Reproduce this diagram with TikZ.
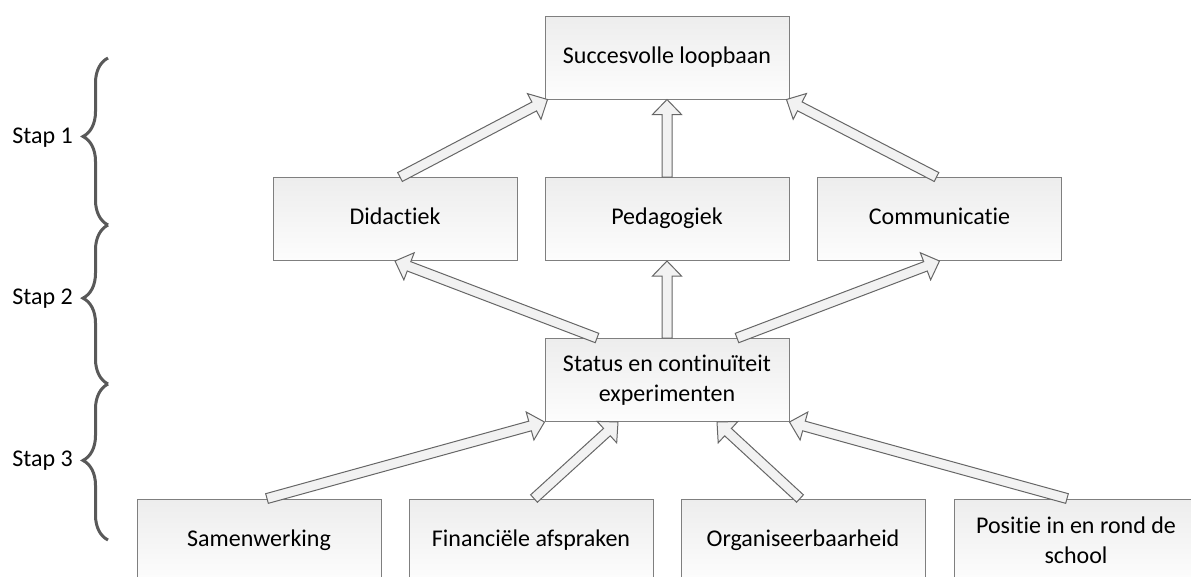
\documentclass[tikz,border=0pt]{standalone}
\usepackage{fontspec}
\setmainfont{Carlito}[Ligatures={NoCommon,NoRequired,NoContextual}]
\usetikzlibrary{calc,decorations.pathreplacing}
\definecolor{boxline}{HTML}{7F7F7F}
\definecolor{boxtop}{HTML}{EDEDED}
\definecolor{boxbot}{HTML}{FDFDFD}
\definecolor{arrline}{HTML}{666666}
\definecolor{arrfill}{HTML}{F2F2F2}
\definecolor{bracecol}{HTML}{595959}
\tikzset{
  box/.style={rectangle, draw=boxline, line width=1pt, top color=boxtop, bottom color=boxbot,
    minimum width=244pt, minimum height=83pt, align=center, inner sep=2pt,
    font=\fontsize{24}{30}\selectfont},
  onebox/.style={box, text height=17pt, text depth=6pt},
  blockarr/.style={draw=arrline, fill=arrfill, line width=1pt, line join=miter},
  stapbrace/.style={draw=bracecol, line width=3pt, decorate},
  staplabel/.style={anchor=east, font=\fontsize{24}{30}\selectfont, inner sep=0pt}
}
\newcommand\blockarrow[2]{%
  \coordinate (ba-h) at ($(#2)!15pt!(#1)$);
  \draw[blockarr] ($(#1)!5pt!90:(#2)$) -- ($(ba-h)!5pt!90:(#2)$) -- ($(ba-h)!14.5pt!90:(#2)$)
    -- (#2) -- ($(ba-h)!14.5pt!-90:(#2)$) -- ($(ba-h)!5pt!-90:(#2)$) -- ($(#1)!5pt!-90:(#2)$) -- cycle;}
\begin{document}
\begin{tikzpicture}[x=1pt,y=-1pt]
\useasboundingbox (0,0) rectangle (1191,576);
\clip (0,0) rectangle (1191,576);
% boxes
\node[onebox] (top) at (667,57.5) {Succesvolle loopbaan};
\node[onebox] (did) at (395,219) {Didactiek};
\node[onebox] (ped) at (667,219) {Pedagogiek};
\node[onebox] (com) at (939.5,219) {Communicatie};
\node[box] (stat) at (667,380) {Status en continuïteit\\experimenten};
\node[onebox] (sam) at (259,540.5) {Samenwerking};
\node[onebox] (fin) at (531,540.5) {Financiële afspraken};
\node[onebox] (org) at (803,540.5) {Organiseerbaarheid};
\node[box] (pos) at (1076,540.5) {Positie in en rond de\\school};
% arrow end points
\coordinate (a1s) at ($(did.north)+(5,0)$);
\coordinate (a1e) at ($(top.south west)+(3,0)$);
\coordinate (a3s) at ($(com.north)+(-3,0)$);
\coordinate (a3e) at ($(top.south east)+(-3,0)$);
\coordinate (a4s) at ($(stat.north)+(-70,0)$);
\coordinate (a6s) at ($(stat.north)+(70,0)$);
\coordinate (a7s) at ($(sam.north)+(8,0)$);
\coordinate (a8s) at ($(fin.north)+(3,0)$);
\coordinate (a8e) at ($(stat.south)+(-49,0)$);
\coordinate (a9s) at ($(org.north)+(-3,0)$);
\coordinate (a9e) at ($(stat.south)+(50,0)$);
\coordinate (a10s) at ($(pos.north)+(-9,0)$);
% arrows
\blockarrow{a1s}{a1e}
\blockarrow{ped.north}{top.south}
\blockarrow{a3s}{a3e}
\blockarrow{a4s}{did.south}
\blockarrow{stat.north}{ped.south}
\blockarrow{a6s}{com.south}
\blockarrow{a7s}{stat.south west}
\blockarrow{a8s}{a8e}
\blockarrow{a9s}{a9e}
\blockarrow{a10s}{stat.south east}
% braces
\coordinate (b0) at (108,58);
\coordinate (b1) at (108,225);
\coordinate (b2) at (108,384);
\coordinate (b3) at (108,540);
\draw[stapbrace, decoration={brace, amplitude=25pt, aspect=0.53}] (b1) -- (b0);
\draw[stapbrace, decoration={brace, amplitude=25pt, aspect=0.54}] (b2) -- (b1);
\draw[stapbrace, decoration={brace, amplitude=25pt, aspect=0.51}] (b3) -- (b2);
\node[staplabel] (s1) at (73,138) {Stap 1};
\node[staplabel] (s2) at (73,299) {Stap 2};
\node[staplabel] (s3) at (73,461) {Stap 3};
\end{tikzpicture}
\end{document}
